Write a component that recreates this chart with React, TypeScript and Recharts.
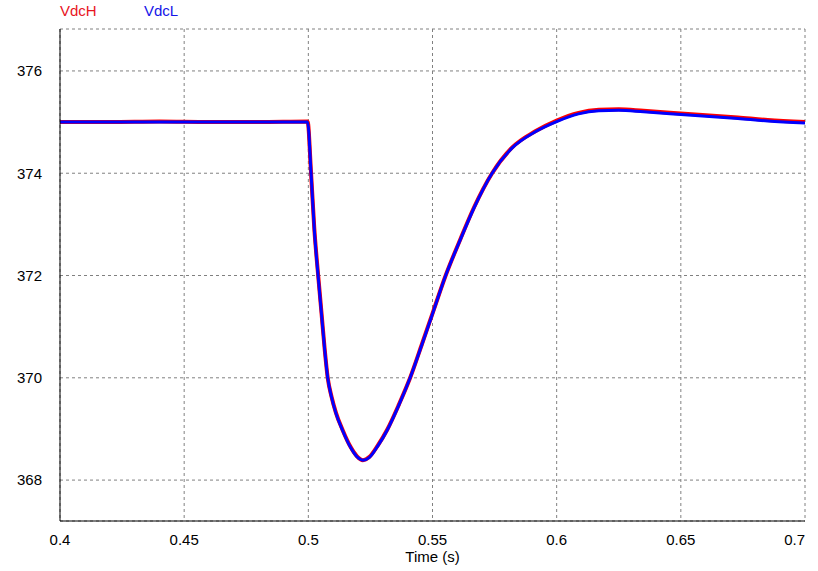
import React from "react";
import { LineChart, Line, XAxis, YAxis, CartesianGrid } from "recharts";

// time (s) samples
const times = [
  0.4, 0.42, 0.44, 0.46, 0.48, 0.4997, 0.5011, 0.5024, 0.504, 0.5053, 0.5066,
  0.5078, 0.5094, 0.5111, 0.5138, 0.5171, 0.5195, 0.522, 0.5245, 0.528, 0.5318,
  0.5365, 0.541, 0.5459, 0.5505, 0.5553, 0.5613, 0.5667, 0.574, 0.582, 0.5914,
  0.6, 0.6088, 0.617, 0.625, 0.635, 0.65, 0.673, 0.685, 0.7,
];

// VdcH (V)
const vdcH = [
  375.0, 375.0, 375.01, 375.0, 375.0, 375.01, 374.0, 372.92, 371.98, 371.27, 370.55,
  370.0, 369.62, 369.32, 368.98, 368.64, 368.47, 368.39, 368.45, 368.68, 368.99,
  369.48, 370.0, 370.68, 371.33, 372.0, 372.72, 373.33, 374.0, 374.5, 374.82,
  375.03, 375.18, 375.24, 375.25, 375.22, 375.17, 375.09, 375.04, 375.0,
];

// VdcL (V)
const vdcL = [
  375.0, 375.0, 375.0, 375.0, 375.0, 375.0, 374.0, 372.9, 371.96, 371.25, 370.54,
  370.0, 369.61, 369.31, 368.97, 368.63, 368.46, 368.39, 368.44, 368.67, 368.98,
  369.47, 370.0, 370.67, 371.32, 372.0, 372.71, 373.32, 374.0, 374.49, 374.81,
  375.01, 375.16, 375.22, 375.23, 375.2, 375.15, 375.07, 375.02, 374.98,
];

const xTicks = [0.4, 0.45, 0.5, 0.55, 0.6, 0.65, 0.7];
const yTicks = [368, 370, 372, 374, 376];

const data = times.map((t, i) => ({ t, vdcH: vdcH[i], vdcL: vdcL[i] }));

const FONT = '"Liberation Sans", Arial, sans-serif';

const XTick = (props: any) => {
  const { x, y, payload } = props;
  const last = payload.value >= 0.7 - 1e-9;
  return (
    <text
      x={x}
      y={y}
      dy="0.71em"
      textAnchor={last ? "end" : "middle"}
      fontFamily={FONT}
      fontSize={15}
      fill="#000"
    >
      {String(payload.value)}
    </text>
  );
};

export default function App() {
  return (
    <div style={{ position: "absolute", left: 0, top: 0, width: 818, height: 571, background: "#fff" }}>
      <div style={{ position: "absolute", left: 60, top: 2, fontFamily: FONT, fontSize: 15, color: "#e8141e" }}>
        VdcH
      </div>
      <div style={{ position: "absolute", left: 144, top: 2, fontFamily: FONT, fontSize: 15, color: "#1414e8" }}>
        VdcL
      </div>
      <LineChart width={818} height={571} data={data} margin={{ top: 29, right: 13, left: 0, bottom: 0 }}>
        <CartesianGrid stroke="#808080" strokeDasharray="3 3" />
        <XAxis
          dataKey="t"
          type="number"
          domain={[0.4, 0.7]}
          ticks={xTicks}
          allowDataOverflow
          height={50}
          tickSize={0}
          tickMargin={13}
          tickLine={false}
          axisLine={{ stroke: "#000" }}
          tick={<XTick />}
          label={{ value: "Time (s)", position: "insideBottom", offset: 9, fontFamily: FONT, fontSize: 15, fill: "#000" }}
        />
        <XAxis xAxisId="top" orientation="top" type="number" domain={[0.4, 0.7]} height={0} tick={false} tickLine={false} axisLine={{ stroke: "#000" }} />
        <YAxis
          type="number"
          domain={[367.2, 376.82]}
          ticks={yTicks}
          allowDataOverflow
          width={60}
          tickSize={0}
          tickMargin={18}
          tickLine={false}
          axisLine={{ stroke: "#000" }}
          tick={{ fontFamily: FONT, fontSize: 15, fill: "#000" }}
        />
        <YAxis yAxisId="right" orientation="right" type="number" domain={[367.2, 376.82]} width={0} tick={false} tickLine={false} axisLine={{ stroke: "#000" }} />
        <Line type="monotone" dataKey="vdcH" stroke="#ff0000" strokeWidth={4} dot={false} isAnimationActive={false} />
        <Line type="monotone" dataKey="vdcL" stroke="#0000ff" strokeWidth={3} dot={false} isAnimationActive={false} />
      </LineChart>
    </div>
  );
}
